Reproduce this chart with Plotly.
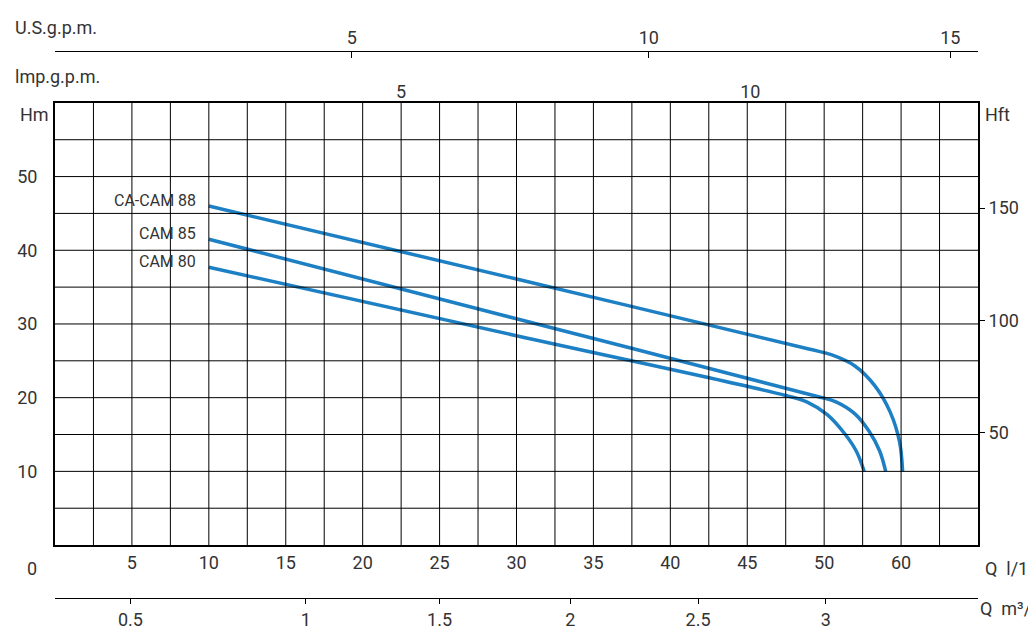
import plotly.graph_objects as go

# curve data (x in chart flow units, y in Hm)
models = ["CA-CAM 88", "CAM 85", "CAM 80"]
x_88 = [10, 30, 49.0, 50.5, 52.0, 53.3, 54.3, 54.9, 55.1]
y_88 = [46, 36.1, 26.6, 25.8, 24.3, 21.6, 18.0, 14.0, 10.0]
x_85 = [10, 30, 49.5, 50.8, 52.0, 52.9, 53.6, 54.0]
y_85 = [41.5, 30.7, 20.2, 19.4, 17.8, 15.5, 12.8, 10.0]
x_80 = [10, 30, 47.5, 48.9, 50.2, 51.3, 52.1, 52.6]
y_80 = [37.7, 28.4, 20.3, 19.4, 17.7, 15.2, 12.7, 10.0]

q_lmin_vals = [5, 10, 15, 20, 25, 30, 35, 40, 45, 50, 55]
q_lmin_text = ["5", "10", "15", "20", "25", "30", "35", "40", "45", "50", "60"]
m3h_vals = [4.9, 16.3, 25.0, 33.5, 41.8, 50.1]
m3h_text = ["0.5", "1", "1.5", "2", "2.5", "3"]
imp_vals = [22.5, 45.2]
imp_text = ["5", "10"]
us_vals = [19.3, 38.6, 58.2]
us_text = ["5", "10", "15"]
hm_vals = [10, 20, 30, 40, 50]
hft_vals = [50, 100, 150]

blue = "rgb(30,128,196)"
txt = "#333333"
font = dict(family="Roboto", size=18, color=txt)

fig = go.Figure()
for name, xs, ys in [(models[0], x_88, y_88), (models[1], x_85, y_85), (models[2], x_80, y_80)]:
    fig.add_trace(go.Scatter(x=xs, y=ys, mode="lines", line=dict(color=blue, width=3.5, shape="spline", smoothing=1),
                             showlegend=False, hoverinfo="skip"))
    fig.add_annotation(x=9.3, y=ys[0] + 0.8, text=name, showarrow=False, xanchor="right", font=dict(family="Roboto", size=16, color=txt))

bottom, top = 0.143, 0.862
fig.update_layout(
    width=1036, height=635, margin=dict(l=47, r=66, t=10, b=10, autoexpand=False),
    plot_bgcolor="white", paper_bgcolor="white", font=font,
    xaxis=dict(range=[0, 60], domain=[0, 1], tickvals=q_lmin_vals, ticktext=q_lmin_text, showgrid=False,
               showline=True, linecolor="black", linewidth=2, mirror=True, ticks="", tickfont=font, automargin=False),
    yaxis=dict(range=[0, 60], domain=[bottom, top], tickvals=hm_vals, showgrid=False, showline=True,
               linecolor="black", linewidth=2, mirror=True, ticks="", tickfont=font, ticklabelstandoff=12, automargin=False),
    yaxis2=dict(range=[0, 60 * 3.281], overlaying="y", side="right", tickvals=hft_vals, showgrid=False,
                ticks="outside", ticklen=6, tickcolor="black", tickfont=font, automargin=False),
    xaxis2=dict(range=[0, 60], overlaying="x", anchor="free", position=0.057, tickvals=m3h_vals, ticktext=m3h_text,
                showline=True, linecolor="black", linewidth=1, ticks="outside", ticklen=5, tickcolor="black",
                showgrid=False, tickfont=font, automargin=False),
    xaxis3=dict(range=[0, 60], overlaying="x", side="top", anchor="free", position=0.946, tickvals=us_vals,
                ticktext=us_text, showline=True, linecolor="black", linewidth=1, ticks="inside", ticklen=6,
                tickcolor="black", showgrid=False, tickfont=font, automargin=False),
    xaxis4=dict(range=[0, 60], overlaying="x", side="top", anchor="y", tickvals=imp_vals, ticktext=imp_text,
                ticks="", showgrid=False, tickfont=font, automargin=False),
)
# dummy traces to activate extra axes
fig.add_trace(go.Scatter(x=[None], y=[None], yaxis="y2", showlegend=False))
fig.add_trace(go.Scatter(x=[None], y=[None], xaxis="x2", showlegend=False))
fig.add_trace(go.Scatter(x=[None], y=[None], xaxis="x3", showlegend=False))
fig.add_trace(go.Scatter(x=[None], y=[None], xaxis="x4", showlegend=False))

# grid
for i in range(1, 24):
    fig.add_shape(type="line", x0=i * 2.5, x1=i * 2.5, y0=0, y1=60, xref="x", yref="y", line=dict(color="black", width=1))
for j in range(1, 12):
    fig.add_shape(type="line", x0=0, x1=60, y0=j * 5, y1=j * 5, xref="x", yref="y", line=dict(color="black", width=1))

labels = [
    (-0.025, 0.105, "0", "center"),
    (1.06, 0.105, "Q  l/1'", "right"),
    (1.07, 0.04, "Q  m³/h", "right"),
    (-0.04, 0.843, "Hm", "left"),
    (1.005, 0.843, "Hft", "left"),
    (-0.045, 0.985, "U.S.g.p.m.", "left"),
    (-0.045, 0.905, "lmp.g.p.m.", "left"),
]
for x, y, t, anc in labels:
    fig.add_annotation(x=x, y=y, xref="paper", yref="paper", text=t, showarrow=False, xanchor=anc,
                       yanchor="middle", font=font)

fig.write_html("out.html")
